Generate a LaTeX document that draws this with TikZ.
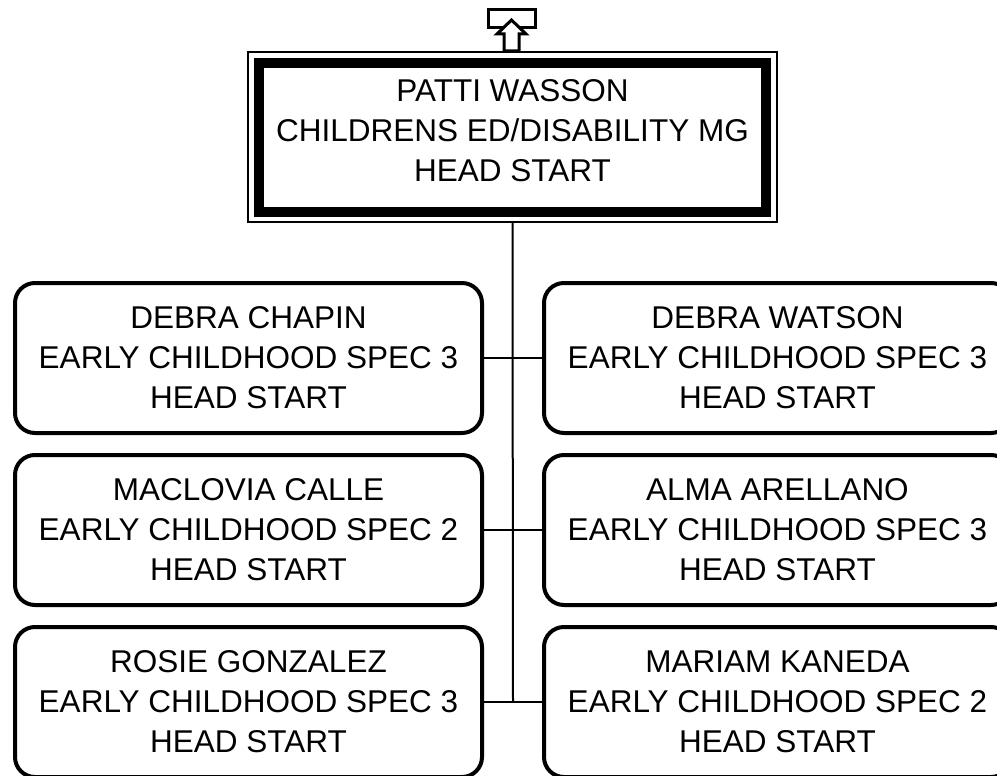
\documentclass[tikz,border=0pt]{standalone}
\usepackage{fontspec}
\setmainfont{Liberation Sans}
\begin{document}
\begin{tikzpicture}[x=1pt,y=-1pt,
  every node/.style={outer sep=0pt, inner sep=0pt},
  txt/.style={align=center, font=\fontsize{31.5}{40}\selectfont},
  child/.style={txt, draw, line width=4pt, rounded corners=20pt, minimum width=467pt, minimum height=150pt},
  conn/.style={line width=2pt}]
\path[use as bounding box, clip] (0,0) rectangle (997,776);
% top box frame
\node[draw, line width=2pt, minimum width=529pt, minimum height=170pt] (topouter) at (512.5,137) {};
\node[draw, line width=10pt, minimum width=507pt, minimum height=149pt] (topinner) at (512.5,137.5) {};
\node[txt] (toptext) at (512.5,130.5) {PATTI WASSON\\CHILDRENS ED/DISABILITY MG\\HEAD START};
% up-arrow marker
\node[draw, fill=white, line width=3pt, minimum width=47pt, minimum height=18pt] (marker) at (511.5,19) {};
\draw[line width=3pt, fill=white, line join=miter]
  (511.5,20) -- (526,34) -- (519,34) -- (519,51) -- (504,51) -- (504,34) -- (497,34) -- cycle;
% children
\node[child] (l1) at (248.5,358) {DEBRA CHAPIN\\EARLY CHILDHOOD SPEC 3\\HEAD START};
\node[child] (r1) at (777.5,358) {DEBRA WATSON\\EARLY CHILDHOOD SPEC 3\\HEAD START};
\node[child] (l2) at (248.5,530) {MACLOVIA CALLE\\EARLY CHILDHOOD SPEC 2\\HEAD START};
\node[child] (r2) at (777.5,530) {ALMA ARELLANO\\EARLY CHILDHOOD SPEC 3\\HEAD START};
\node[child] (l3) at (248.5,702) {ROSIE GONZALEZ\\EARLY CHILDHOOD SPEC 3\\HEAD START};
\node[child] (r3) at (777.5,702) {MARIAM KANEDA\\EARLY CHILDHOOD SPEC 2\\HEAD START};
% connectors
\coordinate (j3) at (513,702);
\draw[conn] (topouter.south) -- (j3);
\draw[conn] (l1.east) -- (r1.west);
\draw[conn] (l2.east) -- (r2.west);
\draw[conn] (l3.east) -- (r3.west);
\end{tikzpicture}
\end{document}
